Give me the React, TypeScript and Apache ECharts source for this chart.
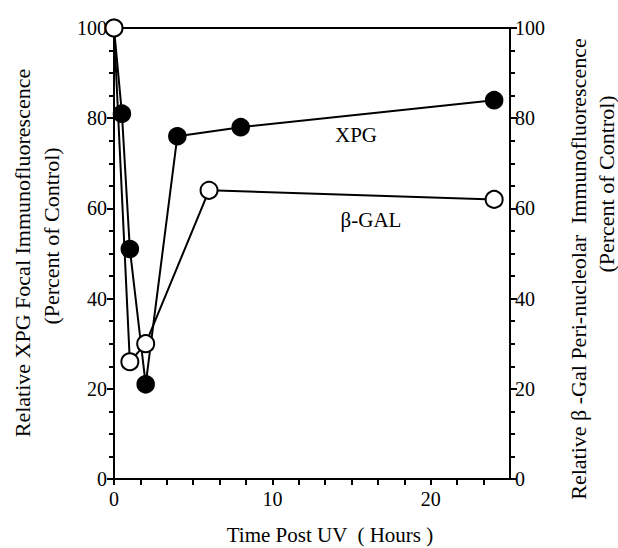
import React, { useEffect, useRef } from "react";
import * as echarts from "echarts";

const xpgHours = [0, 0.5, 1, 2, 4, 8, 24];
const xpgValues = [100, 81, 51, 21, 76, 78, 84];
const galHours = [0, 1, 2, 6, 24];
const galValues = [100, 26, 30, 64, 62];
const xTickLabels = [0, 10, 20];
const yTickLabels = [0, 20, 40, 60, 80, 100];

const FAMILY = "Liberation Serif";

export default function App() {
  const ref = useRef<HTMLDivElement>(null);
  useEffect(() => {
    if (!ref.current) return;
    const chart = echarts.init(ref.current, null, { renderer: "svg" });
    const yAxisBase = (pos: "left" | "right") => ({
      type: "value",
      position: pos,
      min: 0,
      max: 100,
      interval: 20,
      axisLine: { show: true, lineStyle: { color: "#000", width: 2 } },
      axisTick: { show: true, length: 7, lineStyle: { color: "#000", width: 2 } },
      minorTick: { show: true, splitNumber: 4, length: 5, lineStyle: { color: "#000", width: 2 } },
      splitLine: { show: false },
      axisLabel: {
        color: "#000",
        fontFamily: FAMILY,
        fontSize: 20,
        margin: pos === "left" ? 7 : 5,
        formatter: (v: number) => (yTickLabels.includes(v) ? String(v) : ""),
      },
    });
    const txt = (text: string, x: number, y: number, size: number, rot = 0) => ({
      type: "text",
      x,
      y,
      rotation: rot,
      style: {
        text,
        fontFamily: FAMILY,
        fontSize: size,
        fill: "#000",
        textAlign: "center",
        textVerticalAlign: "middle",
      },
    });
    chart.setOption({
      animation: false,
      backgroundColor: "#fff",
      textStyle: { fontFamily: FAMILY, color: "#000" },
      grid: {
        left: 114,
        right: 108,
        top: 28,
        bottom: 69,
        show: true,
        borderColor: "#000",
        borderWidth: 2,
        backgroundColor: "transparent",
      },
      xAxis: {
        type: "value",
        min: 0,
        max: 25,
        interval: 5 / 3,
        axisLine: { show: true, onZero: false, lineStyle: { color: "#000", width: 2 } },
        axisTick: { show: true, length: 6, lineStyle: { color: "#000", width: 2 } },
        splitLine: { show: false },
        axisLabel: {
          color: "#000",
          fontFamily: FAMILY,
          fontSize: 20,
          margin: 10,
          showMaxLabel: false,
          formatter: (v: number) => {
            const r = Math.round(v);
            return Math.abs(v - r) < 1e-6 && xTickLabels.includes(r) ? String(r) : "";
          },
        },
      },
      yAxis: [yAxisBase("left"), yAxisBase("right")],
      series: [
        {
          name: "XPG",
          type: "line",
          data: xpgHours.map((h, i) => [h, xpgValues[i]]),
          symbol: "circle",
          symbolSize: 17,
          lineStyle: { color: "#000", width: 2 },
          itemStyle: { color: "#000", borderColor: "#000", borderWidth: 1.5 },
          z: 2,
        },
        {
          name: "β-GAL",
          type: "line",
          data: galHours.map((h, i) => [h, galValues[i]]),
          symbol: "circle",
          symbolSize: 17,
          lineStyle: { color: "#000", width: 2 },
          itemStyle: { color: "#fff", borderColor: "#000", borderWidth: 2 },
          z: 3,
        },
      ],
      graphic: [
        txt("XPG", 356, 135, 21),
        txt("β-GAL", 371, 220, 21),
        txt("Time Post UV  ( Hours )", 330, 535, 21),
        txt("Relative XPG Focal Immunofluorescence", 22, 253, 22, Math.PI / 2),
        txt("(Percent of Control)", 51, 236, 22, Math.PI / 2),
        txt("Relative β -Gal Peri-nucleolar  Immunofluorescence", 578, 269, 22, Math.PI / 2),
        txt("(Percent of Control)", 606, 184, 22, Math.PI / 2),
      ],
    });
    return () => chart.dispose();
  }, []);
  return <div ref={ref} style={{ width: 618, height: 548, position: "absolute", left: 0, top: 0 }} />;
}
